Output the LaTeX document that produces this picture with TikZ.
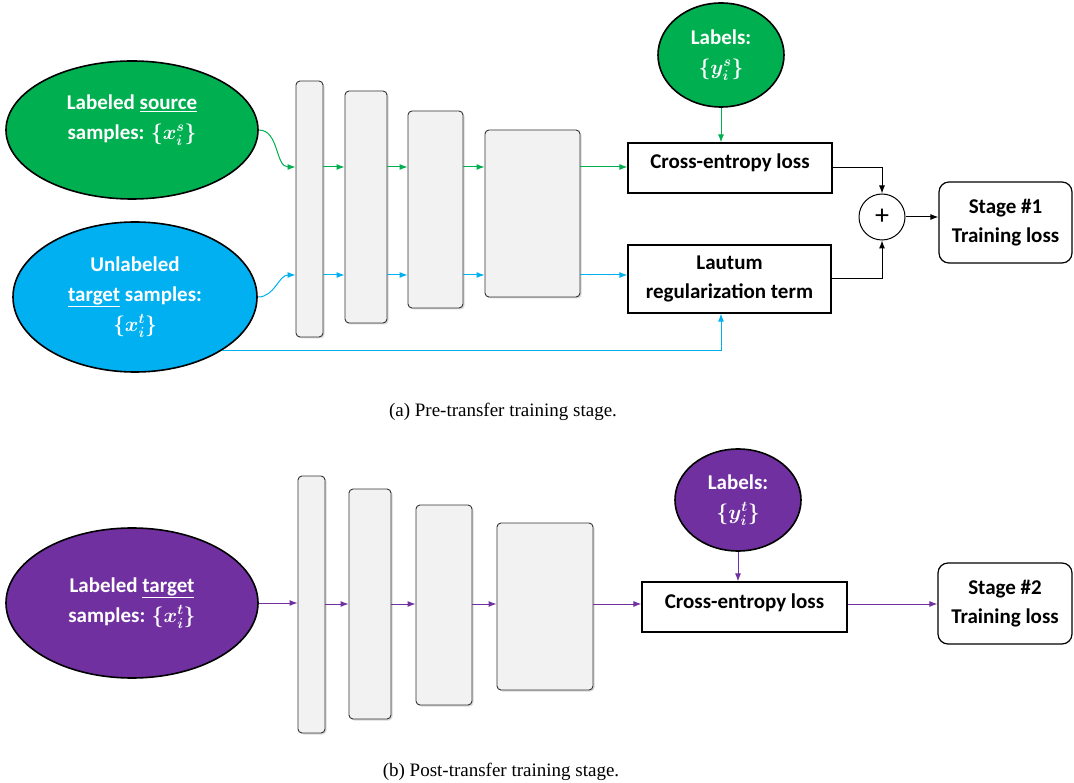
\documentclass[tikz,border=0pt]{standalone}
\usepackage{fontspec}
\setmainfont{Carlito}
\newfontfamily\capfont{Liberation Serif}
\usetikzlibrary{shapes.geometric,shadows,arrows.meta}
\definecolor{srcgreen}{HTML}{00B050}
\definecolor{tgtblue}{HTML}{00B0F0}
\definecolor{tgtpurple}{HTML}{7030A0}
\definecolor{layergray}{HTML}{F2F2F2}

\begin{document}
\begin{tikzpicture}[x=1pt,y=-1pt,>={Latex[length=8pt,width=6pt]},
    data/.style={ellipse,draw=black,line width=1.6pt,inner sep=0pt,text=white,align=center,font=\fontsize{21}{30}\selectfont\bfseries\boldmath},
    layer/.style={rectangle,rounded corners=4pt,draw=black!80,line width=0.9pt,fill=layergray,drop shadow={shadow xshift=1.5pt,shadow yshift=-1.5pt,opacity=.3}},
    loss/.style={rectangle,draw=black,line width=1.2pt,align=center,font=\fontsize{21}{29}\selectfont\bfseries},
    stage/.style={loss,rounded corners=10pt},
    flow/.style={->,line width=1pt},
    caption/.style={font=\capfont\fontsize{19}{22}\selectfont}]
    \useasboundingbox (0,0) rectangle (1074,783);

    % (a) pre-transfer
    \node[data,fill=srcgreen,minimum width=252pt,minimum height=138pt] (src) at (132,130) {};
    \node[data,draw=none,text=white] (srctext) at (132,120) {Labeled \underline{source}\\samples: $\{x_i^s\}$};
    \node[data,fill=tgtblue,minimum width=244pt,minimum height=150pt] (tgt) at (135,297) {Unlabeled\\\underline{target} samples:\\$\{x_i^t\}$};
    \node[data,fill=srcgreen,minimum width=126pt,minimum height=104pt] (lab) at (721,55) {Labels:\\$\{y_i^s\}$};

    \node[layer,minimum width=27pt,minimum height=256pt] (l1) at (309.5,209) {};
    \node[layer,minimum width=42pt,minimum height=232pt] (l2) at (366,207) {};
    \node[layer,minimum width=55pt,minimum height=197pt] (l3) at (435.5,209.5) {};
    \node[layer,minimum width=95pt,minimum height=167pt] (l4) at (532.5,213.5) {};

    \node[loss,minimum width=204pt,minimum height=50pt,text height=14pt,text depth=12pt] (ce) at (730,168) {Cross-entropy loss};
    \node[loss,minimum width=203pt,minimum height=68pt] (lr) at (729.5,279) {Lautum\\regularization term};
    \node[circle,draw,line width=1pt,minimum size=46pt,inner sep=0pt,font=\fontsize{28}{28}\selectfont] (plus) at (882,217) {+};
    \node[stage,minimum width=133pt,minimum height=81pt] (st1) at (1005.5,222.5) {Stage \#1\\Training loss};

    \coordinate (gy) at (0,167);
    \coordinate (by) at (0,275);
    \draw[flow,srcgreen] (src.east) to[out=0,in=180] (l1.west |- gy);
    \draw[flow,tgtblue] (tgt.east) to[out=0,in=180] (l1.west |- by);
    \foreach \a/\b in {l1/l2,l2/l3,l3/l4}{
        \draw[flow,srcgreen] (\a.east |- gy) -- (\b.west |- gy);
        \draw[flow,tgtblue] (\a.east |- by) -- (\b.west |- by);
    }
    \draw[flow,srcgreen] (l4.east |- gy) -- (ce.west |- gy);
    \draw[flow,tgtblue] (l4.east |- by) -- (lr.west |- by);
    \draw[flow,srcgreen] (lab.south) -- (lab.south |- ce.north);
    \draw[flow,tgtblue] (tgt.south east) -- (lab.south |- tgt.south east) -- (lab.south |- lr.south);
    \draw[flow] (ce.east) -| (plus.north);
    \draw[flow] (lr.east) -| (plus.south);
    \draw[flow] (plus.east) -- (st1.west |- plus.east);

    \node[caption] (capa) at (503,412) {(a) Pre-transfer training stage.};

    % (b) post-transfer
    \node[data,fill=tgtpurple,minimum width=252pt,minimum height=150pt] (ltgt) at (132,603) {Labeled \underline{target}\\samples: $\{x_i^t\}$};
    \node[data,fill=tgtpurple,minimum width=126pt,minimum height=102pt] (lab2) at (738,500) {Labels:\\$\{y_i^t\}$};

    \node[layer,minimum width=27pt,minimum height=257pt] (m1) at (311.5,604.5) {};
    \node[layer,minimum width=42pt,minimum height=230pt] (m2) at (370,604) {};
    \node[layer,minimum width=56pt,minimum height=200pt] (m3) at (444,605) {};
    \node[layer,minimum width=96pt,minimum height=167pt] (m4) at (545,606.5) {};

    \node[loss,minimum width=205pt,minimum height=50pt,text height=14pt,text depth=12pt] (ce2) at (744.5,607) {Cross-entropy loss};
    \node[stage,minimum width=134pt,minimum height=81pt] (st2) at (1005,603.5) {Stage \#2\\Training loss};

    \coordinate (py) at (0,604);
    \draw[flow,tgtpurple] (ltgt.east) -- (m1.west |- ltgt.east);
    \foreach \a/\b in {m1/m2,m2/m3,m3/m4}
        \draw[flow,tgtpurple] (\a.east |- py) -- (\b.west |- py);
    \draw[flow,tgtpurple] (m4.east |- py) -- (ce2.west |- py);
    \draw[flow,tgtpurple] (lab2.south) -- (lab2.south |- ce2.north);
    \draw[flow,tgtpurple] (ce2.east |- py) -- (st2.west |- py);

    \node[caption] (capb) at (501,772) {(b) Post-transfer training stage.};
\end{tikzpicture}
\end{document}
